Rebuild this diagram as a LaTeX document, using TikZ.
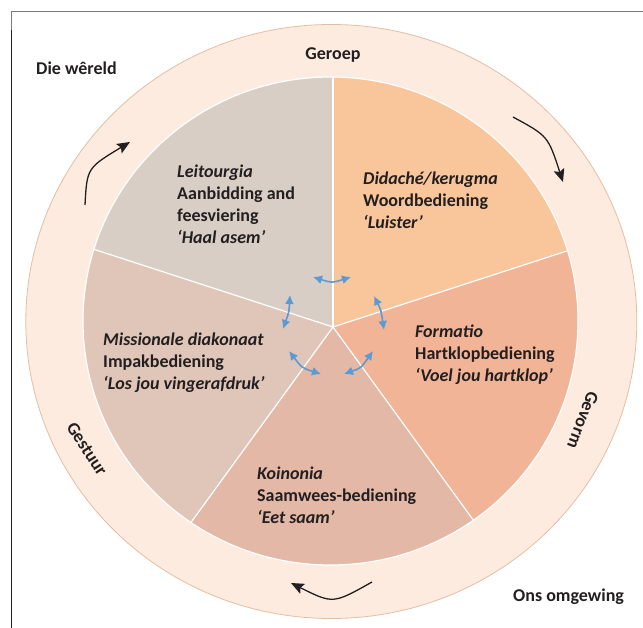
\documentclass[tikz,border=0pt]{standalone}
\usepackage{tikz}
\usepackage{xcolor}
\usepackage{fontspec}
\setmainfont{Carlito}
\usetikzlibrary{arrows.meta,calc}
\definecolor{vring}{HTML}{FDEBDF}
\definecolor{vringline}{HTML}{E2BFA3}
\definecolor{vgray}{HTML}{D8CEC5}
\definecolor{vpeach}{HTML}{F9C69B}
\definecolor{vsalmon}{HTML}{F2B497}
\definecolor{vrose}{HTML}{E4B8A6}
\definecolor{vblush}{HTML}{E0C5B9}
\definecolor{vdarkgray}{HTML}{231F20}
\definecolor{vblue}{HTML}{5B9BD5}

\begin{document}
\begin{tikzpicture}[x=1pt, y=-1pt,
		label/.style={font=\fontsize{18}{22}\selectfont\bfseries, text=vdarkgray, inner sep=0pt},
		block/.style={label, align=left, anchor=west},
		turn/.style={color=vdarkgray, line width=1.3pt, -{Stealth[length=13pt, width=11pt, inset=2.5pt]}},
		link/.style={color=vblue, line width=1.6pt, {Latex[length=9pt, width=9pt]}-{Latex[length=9pt, width=9pt]}}]
		\useasboundingbox (0,0) rectangle (643,628);
		\draw[color=vdarkgray!60, line width=0.8pt] (11,628) -- (11,11) -- (643,11);
		\draw[color=vdarkgray, line width=0.8pt] (11,628) -- (11,30);
		% outer ring
		\fill[color=vring, draw=vringline, line width=0.8pt] (331.3,321.5) ellipse [x radius=305.5pt, y radius=297pt];
		\coordinate (P) at (333,327);
		\begin{scope}
			\clip (330.5,321) ellipse [x radius=247.5pt, y radius=244pt];
			\fill[color=vgray] (P) -- ($(P)+(-90:400)$) -- ($(P)+(-126:400)$) -- ($(P)+(-162:400)$) -- cycle;
			\fill[color=vpeach] (P) -- ($(P)+(-90:400)$) -- ($(P)+(-54:400)$) -- ($(P)+(-18:400)$) -- cycle;
			\fill[color=vsalmon] (P) -- ($(P)+(-18:400)$) -- ($(P)+(18:400)$) -- ($(P)+(54:400)$) -- cycle;
			\fill[color=vrose] (P) -- ($(P)+(54:400)$) -- ($(P)+(90:400)$) -- ($(P)+(126:400)$) -- cycle;
			\fill[color=vblush] (P) -- ($(P)+(126:400)$) -- ($(P)+(162:400)$) -- ($(P)+(198:400)$) -- cycle;
			\foreach \a in {-90,-18,54,126,198}
				\draw[color=white, line width=1.2pt] (P) -- ($(P)+(\a:400)$);
		\end{scope}
		\draw[color=white, line width=1.2pt] (330.5,321) ellipse [x radius=247.5pt, y radius=244pt];
		% texts
		\node[block] (leitourgia) at (177,204) {\textit{Leitourgia}\\Aanbidding and\\feesviering\\\textit{‘Haal asem’}};
		\node[block] (didache) at (363,200) {\textit{Didaché/kerugma}\\Woordbediening\\\textit{‘Luister’}};
		\node[block] (formatio) at (415,355) {\textit{Formatio}\\Hartklopbediening\\\textit{‘Voel jou hartklop’}};
		\node[block] (missio) at (103,363) {\textit{Missionale diakonaat}\\Impakbediening\\\textit{‘Los jou vingerafdruk’}};
		\node[block] (koinonia) at (257,495) {\textit{Koinonia}\\Saamwees-bediening\\\textit{‘Eet saam’}};
		\node[label] (geroep) at (333,55) {Geroep};
		\node[label, rotate=-111] (gevorm) at (583,420) {Gevorm};
		\node[label, rotate=-57] (gestuur) at (87,449) {Gestuur};
		\node[label, anchor=west] (wereld) at (36,68) {Die wêreld};
		\node[label, anchor=west] (omgewing) at (513,597) {Ons omgewing};
		% ring arrows
		\coordinate (t1) at (85,205);
		\coordinate (h1) at (130,142);
		\coordinate (t2) at (513,117);
		\coordinate (h2) at (563,182);
		\coordinate (t3) at (372,582);
		\coordinate (h3) at (291,583);
		\draw[turn] (t1) .. controls (87,168) .. (h1);
		\draw[turn] (t2) .. controls (548,136) .. (h2);
		\draw[turn] (t3) .. controls (333,604) .. (h3);
		% blue links
		\coordinate (a1) at (313,277);
		\coordinate (b1) at (351,277);
		\coordinate (a2) at (290,295);
		\coordinate (b2) at (283,329);
		\coordinate (a3) at (374,296);
		\coordinate (b3) at (384,330);
		\coordinate (a4) at (289,351);
		\coordinate (b4) at (321,374);
		\coordinate (a5) at (373,351);
		\coordinate (b5) at (344,374);
		\draw[link] (a1) .. controls (332,283) .. (b1);
		\draw[link] (a2) .. controls (289,312) .. (b2);
		\draw[link] (a3) .. controls (381,310) .. (b3);
		\draw[link] (a4) .. controls (302,368) .. (b4);
		\draw[link] (a5) .. controls (361,368) .. (b5);
\end{tikzpicture}
\end{document}
